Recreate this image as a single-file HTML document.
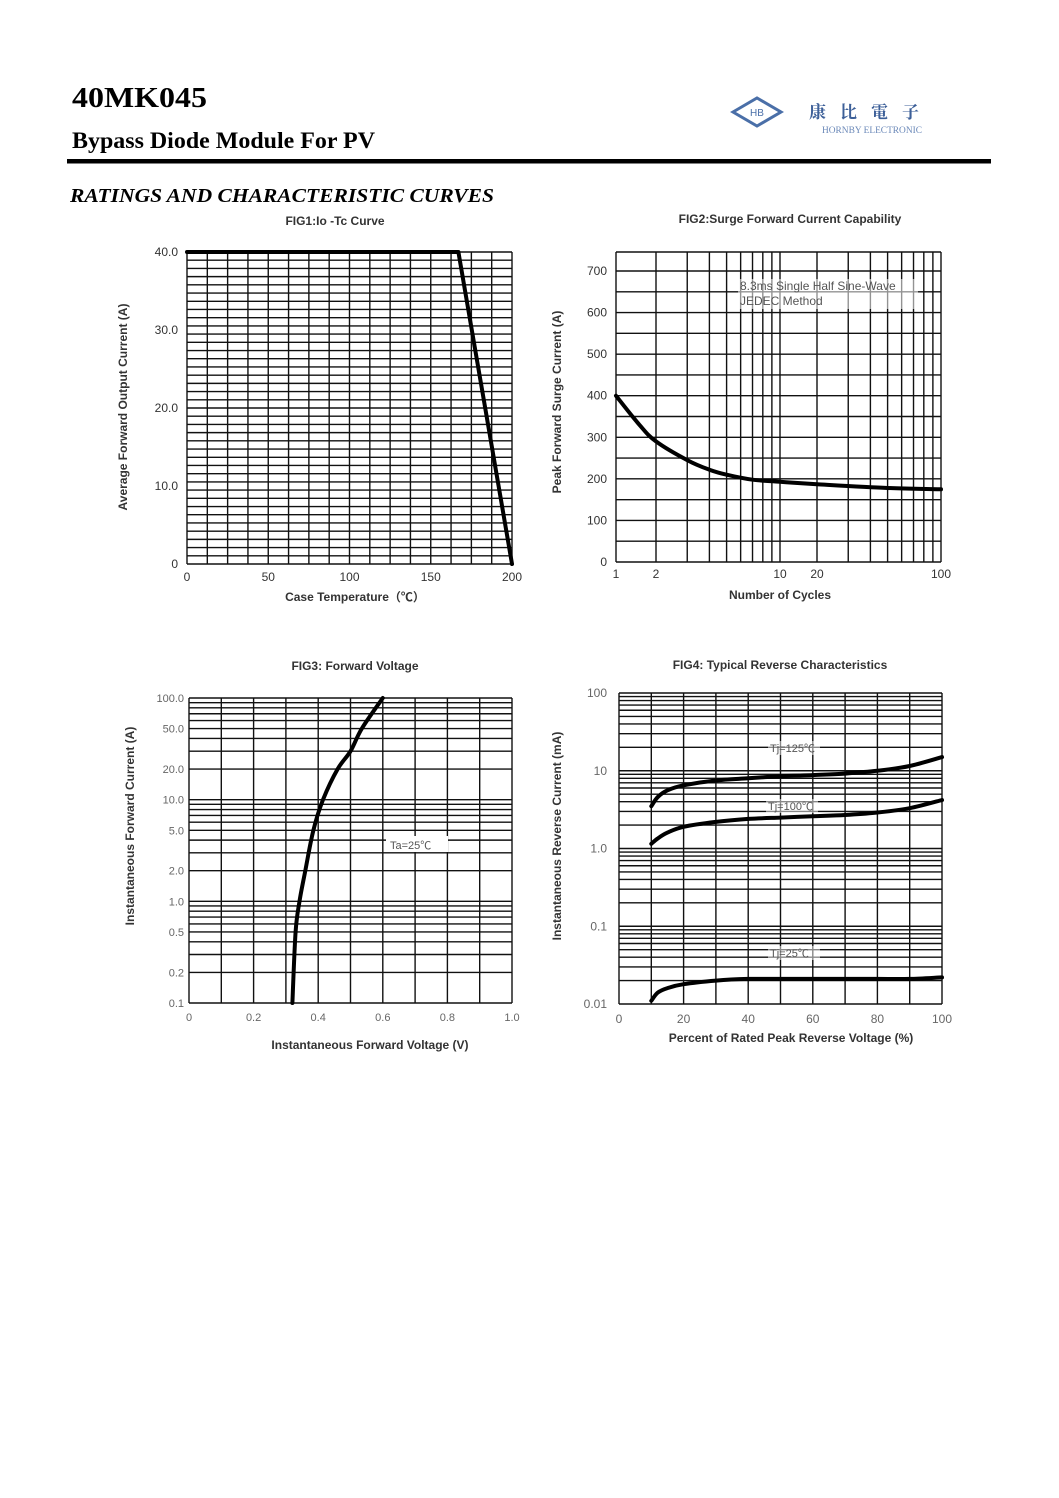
<!DOCTYPE html>
<html><head><meta charset="utf-8"><style>
html,body{margin:0;padding:0;background:#fff;}
svg{display:block;}
</style></head><body>
<svg id="page" width="1059" height="1498" viewBox="0 0 1059 1498" xmlns="http://www.w3.org/2000/svg" font-family="'Liberation Sans', Arial, sans-serif">
<rect width="1059" height="1498" fill="#fff"/>
<text x="72" y="107" font-family="'Liberation Serif', serif" font-weight="bold" font-size="28" textLength="135" lengthAdjust="spacingAndGlyphs">40MK045</text>
<text x="72" y="148" font-family="'Liberation Serif', serif" font-weight="bold" font-size="23" textLength="303" lengthAdjust="spacingAndGlyphs">Bypass Diode Module For PV</text>
<rect x="67" y="159" width="924" height="4.5" fill="#000"/>
<text x="70" y="202" font-family="'Liberation Serif', serif" font-weight="bold" font-style="italic" font-size="20" textLength="424" lengthAdjust="spacingAndGlyphs">RATINGS AND CHARACTERISTIC CURVES</text>
<g>
<polygon points="733,112 757,98 781,112 757,126" fill="none" stroke="#4a6fa8" stroke-width="3"/>
<text x="757" y="116" font-size="10" fill="#4a6fa8" text-anchor="middle">HB</text>
<text x="809" y="118" font-family="'Noto Serif CJK SC', serif" font-weight="bold" font-size="17" fill="#3c5f98" letter-spacing="14">康比電子</text>
<text x="822" y="133" font-family="'Liberation Serif', serif" font-size="9" fill="#6a88b8" textLength="100" lengthAdjust="spacingAndGlyphs">HORNBY ELECTRONIC</text>
</g>
<g id="charts"></g>
</svg>
<script>
// ---- FIG1 data ----
const fig1Temps = [0, 167, 200];
const fig1Current = [40, 40, 0];
const fig1XTicks = [0, 50, 100, 150, 200];
const fig1YTicks = [0, 10, 20, 30, 40];
const fig1YTickLabels = ["0", "10.0", "20.0", "30.0", "40.0"];
// ---- FIG2 data ----
const fig2Cycles = [1, 1.5, 2, 3, 4, 5, 7, 10, 20, 50, 100];
const fig2Surge = [400, 330, 290, 245, 222, 210, 198, 193, 187, 178, 175];
const fig2XTicks = [1, 2, 10, 20, 100];
const fig2YTicks = [0, 100, 200, 300, 400, 500, 600, 700];
// ---- FIG3 data ----
const fig3Current = [0.1, 0.5, 1, 2, 5, 10, 20, 30, 50, 100];
const fig3Voltage = [0.32, 0.33, 0.342, 0.36, 0.385, 0.415, 0.46, 0.5, 0.535, 0.6];
const fig3XTicks = [0, 0.2, 0.4, 0.6, 0.8, 1.0];
const fig3XTickLabels = ["0", "0.2", "0.4", "0.6", "0.8", "1.0"];
const fig3YTicks = [0.1, 0.2, 0.5, 1, 2, 5, 10, 20, 50, 100];
const fig3YTickLabels = ["0.1", "0.2", "0.5", "1.0", "2.0", "5.0", "10.0", "20.0", "50.0", "100.0"];
// ---- FIG4 data ----
const fig4Percent = [10, 12, 15, 20, 30, 40, 50, 60, 70, 80, 90, 100];
const fig4Tj125 = [3.5, 4.6, 5.6, 6.5, 7.5, 8.0, 8.5, 8.8, 9.2, 10, 11.5, 15];
const fig4Tj100 = [1.15, 1.35, 1.6, 1.9, 2.2, 2.4, 2.5, 2.6, 2.7, 2.9, 3.3, 4.2];
const fig4Tj25 = [0.011, 0.014, 0.016, 0.018, 0.02, 0.021, 0.021, 0.021, 0.021, 0.021, 0.021, 0.022];
const fig4XTicks = [0, 20, 40, 60, 80, 100];
const fig4YTicks = [0.01, 0.1, 1, 10, 100];
const fig4YTickLabels = ["0.01", "0.1", "1.0", "10", "100"];

const NS = "http://www.w3.org/2000/svg";
const root = document.getElementById("charts");
function mk(tag, attrs, parent) {
  const e = document.createElementNS(NS, tag);
  for (const k in attrs) e.setAttribute(k, attrs[k]);
  (parent || root).appendChild(e);
  return e;
}
function txt(parent, x, y, s, size, anchor, extra) {
  const t = mk("text", Object.assign({x: x, y: y, "font-size": size, "text-anchor": anchor || "middle", fill: "#333"}, extra || {}), parent);
  t.textContent = s;
  return t;
}
function linScale(d0, d1, r0, r1) { return v => r0 + (v - d0) / (d1 - d0) * (r1 - r0); }
function logScale(d0, d1, r0, r1) { return v => r0 + (Math.log10(v) - Math.log10(d0)) / (Math.log10(d1) - Math.log10(d0)) * (r1 - r0); }
// piecewise log scale through anchor points (the printed axis is not a pure log scale)
function pieceLogScale(dom, rng) {
  return v => {
    let i = 0;
    while (i < dom.length - 2 && v > dom[i + 1]) i++;
    const t = (Math.log10(v) - Math.log10(dom[i])) / (Math.log10(dom[i + 1]) - Math.log10(dom[i]));
    return rng[i] + t * (rng[i + 1] - rng[i]);
  };
}
function grid(g, x0, x1, y0, y1, xs, ys) {
  xs.forEach(x => {
    const l = mk("line", {x1: x, x2: x, y1: y0, y2: y1, stroke: "#111", "stroke-width": 1.4}, g);
    
    
  });
  ys.forEach(y => {
    const l = mk("line", {x1: x0, x2: x1, y1: y, y2: y, stroke: "#111", "stroke-width": 1.4}, g);
    
    
  });
}
function curve(g, xsData, ysData, sx, sy, name, smooth) {
  const pts = xsData.map((v, i) => [sx(v), sy(ysData[i])]);
  let d = "M" + pts[0][0].toFixed(1) + "," + pts[0][1].toFixed(1);
  for (let i = 0; i < pts.length - 1; i++) {
    if (!smooth) { d += " L" + pts[i + 1][0].toFixed(1) + "," + pts[i + 1][1].toFixed(1); continue; }
    const p0 = pts[i - 1] || pts[i], p1 = pts[i], p2 = pts[i + 1], p3 = pts[i + 2] || p2;
    const c1 = [p1[0] + (p2[0] - p0[0]) / 6, p1[1] + (p2[1] - p0[1]) / 6];
    const c2 = [p2[0] - (p3[0] - p1[0]) / 6, p2[1] - (p3[1] - p1[1]) / 6];
    d += " C" + c1[0].toFixed(1) + "," + c1[1].toFixed(1) + " " + c2[0].toFixed(1) + "," + c2[1].toFixed(1) + " " + p2[0].toFixed(1) + "," + p2[1].toFixed(1);
  }
  const p = mk("path", {d: d, fill: "none", stroke: "#000", "stroke-width": 4, "stroke-linejoin": "round", "stroke-linecap": "round"}, g);
  
  
  return p;
}
function logLines(min, max) {
  const out = [];
  for (let dec = min; dec < max; dec *= 10) for (let m = 1; m <= 9; m++) out.push(dec * m);
  out.push(max);
  return out;
}

// ===== FIG1 =====
(function () {
  const g = mk("g", {});
  
  
  const X0 = 187, X1 = 512, Y0 = 564, Y1 = 252;
  const sx = linScale(0, 200, X0, X1), sy = linScale(0, 40, Y0, Y1);
  const vx = []; for (let i = 0; i <= 16; i++) vx.push(sx(i * 12.5));
  const hy = []; for (let i = 0; i <= 38; i++) hy.push(Y0 + (Y1 - Y0) * i / 38);
  grid(g, X0, X1, Y0, Y1, vx, hy);
  curve(g, fig1Temps, fig1Current, sx, sy, "fig1-derating-curve", false);
  const t = txt(g, 335, 225, "FIG1:Io -Tc Curve", 12, "middle", {"font-weight": "bold"});
  
  
  fig1XTicks.forEach(v => {
    const l = txt(g, sx(v), 581, String(v), 12);
    
    
  });
  fig1YTicks.forEach((v, i) => {
    const l = txt(g, 178, sy(v) + 4, fig1YTickLabels[i], 12, "end");
    
    
  });
  const xt = txt(g, 355, 601, "Case Temperature（℃）", 12, "middle", {"font-weight": "bold", "font-family": "'Liberation Sans','Noto Sans CJK SC',sans-serif"});
  
  
  const yt = txt(g, 0, 0, "Average Forward Output Current (A)", 12, "middle", {"font-weight": "bold", transform: "translate(127,407) rotate(-90)"});
  
  
})();

// ===== FIG2 =====
(function () {
  const g = mk("g", {});
  
  
  const X0 = 616, X1 = 941, Y0 = 562, Ytop = 252;
  const sx = pieceLogScale([1, 2, 10, 20, 100], [616, 656, 780, 817, 941]);
  const sy = linScale(0, 700, Y0, 271);
  const vx = logLines(1, 100).map(sx);
  const hy = []; for (let v = 0; v <= 700; v += 50) hy.push(sy(v)); hy.push(Ytop);
  grid(g, X0, X1, Y0, Ytop, vx, hy);
  const bg = mk("rect", {x: 738, y: 279, width: 180, height: 30, fill: "#fff", opacity: 0.55}, g);
  
  
  const n1 = txt(g, 740, 290, "8.3ms Single Half Sine-Wave", 12, "start", {fill: "#555"});
  
  
  const n2 = txt(g, 740, 305, "JEDEC Method", 12, "start", {fill: "#555"});
  
  
  curve(g, fig2Cycles, fig2Surge, sx, sy, "fig2-surge-curve", true);
  const t = txt(g, 790, 223, "FIG2:Surge Forward Current Capability", 12, "middle", {"font-weight": "bold"});
  
  
  fig2XTicks.forEach(v => {
    const l = txt(g, sx(v), 578, String(v), 12);
    
    
  });
  fig2YTicks.forEach(v => {
    const l = txt(g, 607, sy(v) + 4, String(v), 12, "end");
    
    
  });
  const xt = txt(g, 780, 599, "Number of Cycles", 12, "middle", {"font-weight": "bold"});
  
  
  const yt = txt(g, 0, 0, "Peak  Forward Surge Current (A)", 12, "middle", {"font-weight": "bold", transform: "translate(561,402) rotate(-90)"});
  
  
})();

// ===== FIG3 =====
(function () {
  const g = mk("g", {});
  
  
  const X0 = 189, X1 = 512, Y0 = 1003, Y1 = 698;
  const sx = linScale(0, 1, X0, X1), sy = logScale(0.1, 100, Y0, Y1);
  const vx = []; for (let i = 0; i <= 10; i++) vx.push(sx(i / 10));
  grid(g, X0, X1, Y0, Y1, vx, logLines(0.1, 100).map(sy));
  const bg = mk("rect", {x: 386, y: 836, width: 62, height: 16, fill: "#fff"}, g);
  
  
  const a = txt(g, 390, 849, "Ta=25℃", 11, "start", {fill: "#555", "font-family": "'Liberation Sans','Noto Sans CJK SC',sans-serif"});
  
  
  curve(g, fig3Voltage, fig3Current, sx, sy, "fig3-forward-voltage-curve", true);
  const t = txt(g, 355, 670, "FIG3: Forward Voltage", 12, "middle", {"font-weight": "bold"});
  
  
  fig3XTicks.forEach((v, i) => {
    const l = txt(g, sx(v), 1021, fig3XTickLabels[i], 11, "middle", {fill: "#666"});
    
    
  });
  fig3YTicks.forEach((v, i) => {
    const l = txt(g, 184, sy(v) + 4, fig3YTickLabels[i], 11, "end", {fill: "#666"});
    
    
  });
  const xt = txt(g, 370, 1049, "Instantaneous Forward Voltage (V)", 12, "middle", {"font-weight": "bold"});
  
  
  const yt = txt(g, 0, 0, "Instantaneous Forward Current (A)", 12, "middle", {"font-weight": "bold", transform: "translate(134,826) rotate(-90)"});
  
  
})();

// ===== FIG4 =====
(function () {
  const g = mk("g", {});
  
  
  const X0 = 619, X1 = 942, Y0 = 1004, Y1 = 693;
  const sx = linScale(0, 100, X0, X1), sy = logScale(0.01, 100, Y0, Y1);
  const vx = []; for (let i = 0; i <= 10; i++) vx.push(sx(i * 10));
  grid(g, X0, X1, Y0, Y1, vx, logLines(0.01, 100).map(sy));
  [["Tj=125℃", 770, 752, "fig4-label-tj125"], ["Tj=100℃", 768, 810, "fig4-label-tj100"], ["Tj=25℃", 770, 957, "fig4-label-tj25"]].forEach(d => {
    const bg = mk("rect", {x: d[1] - 2, y: d[2] - 11, width: 52, height: 14, fill: "#fff", opacity: 0.5}, g);
    
    
    const l = txt(g, d[1], d[2], d[0], 11, "start", {fill: "#555", "font-family": "'Liberation Sans','Noto Sans CJK SC',sans-serif"});
    
    
  });
  curve(g, fig4Percent, fig4Tj125, sx, sy, "fig4-curve-tj125", true);
  curve(g, fig4Percent, fig4Tj100, sx, sy, "fig4-curve-tj100", true);
  curve(g, fig4Percent, fig4Tj25, sx, sy, "fig4-curve-tj25", true);
  const t = txt(g, 780, 669, "FIG4:  Typical Reverse Characteristics", 12, "middle", {"font-weight": "bold"});
  
  
  fig4XTicks.forEach(v => {
    const l = txt(g, sx(v), 1023, String(v), 12, "middle", {fill: "#666"});
    
    
  });
  fig4YTicks.forEach((v, i) => {
    const l = txt(g, 607, sy(v) + 4, fig4YTickLabels[i], 12, "end", {fill: "#666"});
    
    
  });
  const xt = txt(g, 791, 1042, "Percent of Rated Peak Reverse Voltage (%)", 12, "middle", {"font-weight": "bold"});
  
  
  const yt = txt(g, 0, 0, "Instantaneous Reverse Current (mA)", 12, "middle", {"font-weight": "bold", transform: "translate(561,836) rotate(-90)"});
  
  
})();
</script>
</body></html>
